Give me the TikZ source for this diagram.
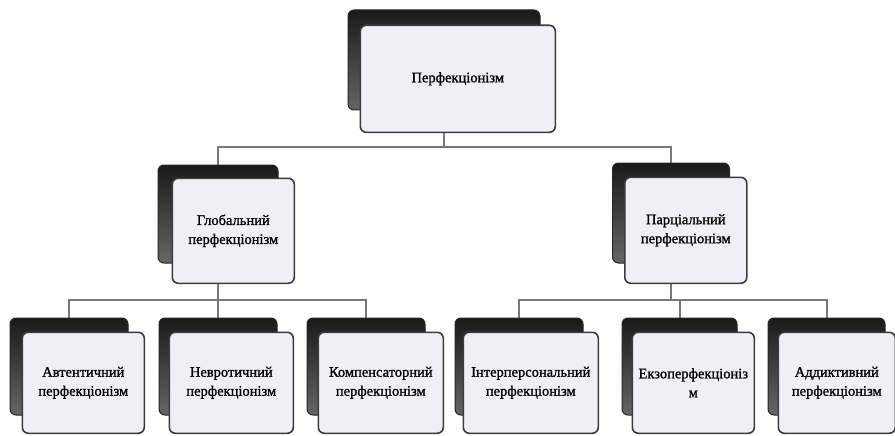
\documentclass[tikz,border=0pt]{standalone}
\usepackage{fontspec}
\setmainfont{Liberation Serif}
\newfontfamily\boxfont[FakeBold=1.2]{Liberation Serif}
\usetikzlibrary{positioning,backgrounds}

\definecolor{boxfill}{RGB}{240,239,247}
\definecolor{boxline}{RGB}{60,60,62}
\definecolor{linkgray}{RGB}{120,120,120}

\begin{document}
\begin{tikzpicture}[x=1pt,y=-1pt,
    back/.style = {draw=black!85, line width=1pt, rounded corners=6pt,
                   top color=black!90, bottom color=black!60,
                   minimum width=118pt, minimum height=97pt, inner sep=0pt},
    front/.style = {draw=boxline, line width=1.6pt, rounded corners=6pt, fill=boxfill,
                    minimum width=122pt, minimum height=101pt, inner sep=2pt,
                    align=center, font=\boxfont\fontsize{14.5}{19}\selectfont},
    link/.style = {draw=linkgray, line width=2pt}]

    \useasboundingbox (0,0) rectangle (895,436);

    % top
    \node[back, minimum width=192pt, minimum height=100pt] (perfB) at (444,60) {};
    \node[front, minimum width=195pt, minimum height=107pt, anchor=north west] (perf)
        at ([shift={(12,15)}]perfB.north west) {Перфекціонізм};

    % second row
    \node[back, minimum width=120pt, minimum height=98pt] (globB) at (218,214) {};
    \node[front, minimum height=105pt, anchor=north west] (glob)
        at ([shift={(14,13)}]globB.north west) {Глобальний\\перфекціонізм};
    \node[back, minimum width=117pt, minimum height=100pt] (parcB) at (671,213) {};
    \node[front, minimum height=106pt, anchor=north west] (parc)
        at ([shift={(12,14)}]parcB.north west) {Парціальний\\перфекціонізм};

    % third row
    \node[back] (avtB) at (69,366.5) {};
    \node[front, anchor=north west] (avt)
        at ([shift={(12,14)}]avtB.north west) {Автентичний\\перфекціонізм};
    \node[back] (nevrB) at (218,366.5) {};
    \node[front, minimum width=124pt, anchor=north west] (nevr)
        at ([shift={(10,14)}]nevrB.north west) {Невротичний\\перфекціонізм};
    \node[back] (kompB) at (366,366.5) {};
    \node[front, minimum width=125pt, anchor=north west] (komp)
        at ([shift={(11,14)}]kompB.north west) {Компенсаторний\\перфекціонізм};
    \node[back, minimum width=128pt] (interB) at (519,366.5) {};
    \node[front, minimum width=135pt, anchor=north west] (inter)
        at ([shift={(8,14)}]interB.north west) {Інтерперсональний\\перфекціонізм};
    \node[back, minimum width=115pt] (ekzoB) at (679.5,366.5) {};
    \node[front, anchor=north west] (ekzo)
        at ([shift={(10,14)}]ekzoB.north west) {Екзоперфекціоніз\\м};
    \node[back, minimum width=117pt] (addB) at (826.5,366.5) {};
    \node[front, minimum width=117pt, anchor=north west] (add)
        at ([shift={(10,14)}]addB.north west) {Аддиктивний\\перфекціонізм};

    \coordinate (bus0) at (perfB |- 0,147);
    \coordinate (bus1) at (globB |- 0,300);
    \coordinate (bus2) at (parcB |- 0,300);

    \begin{scope}[on background layer]
        \draw[link] (perfB) -- (bus0);
        \draw[link] (globB) |- (bus0) -| (parcB);

        \draw[link] (globB) -- (nevrB);
        \draw[link] (avtB) |- (bus1) -| (kompB);

        \draw[link] (parcB) -- (bus2);
        \draw[link] (interB) |- (bus2) -| (addB);
        \draw[link] (ekzoB) -- (ekzoB |- bus2);
    \end{scope}

\end{tikzpicture}
\end{document}
